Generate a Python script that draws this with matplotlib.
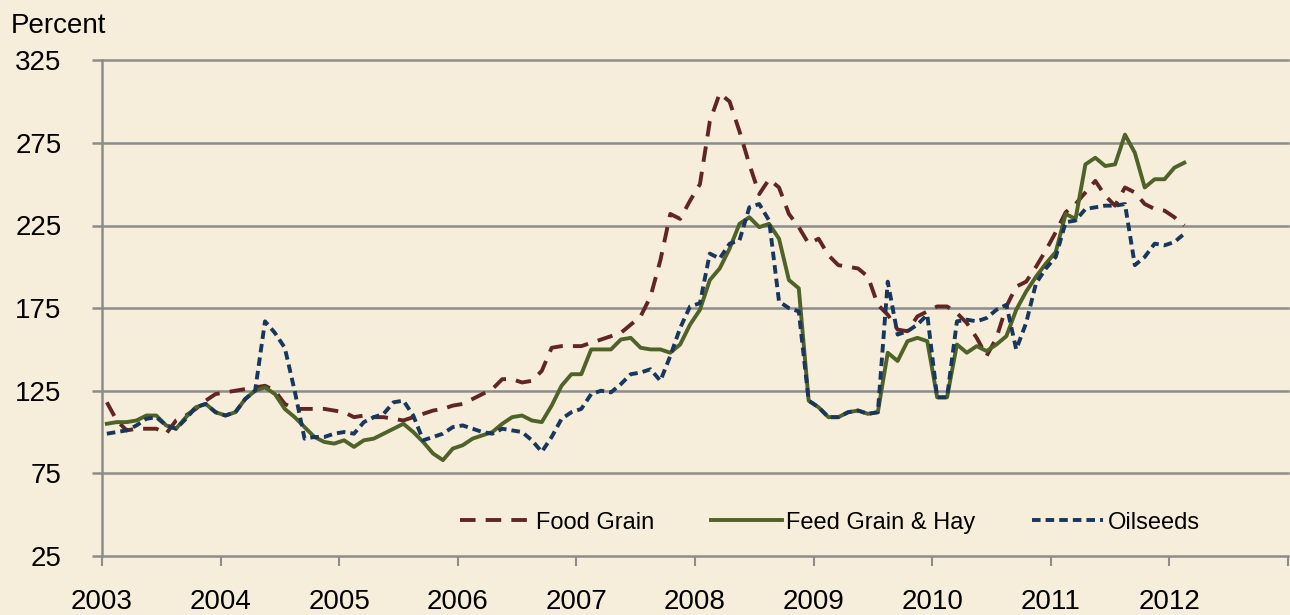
import numpy as np
import matplotlib
matplotlib.use('Agg')
import matplotlib.pyplot as plt

plt.rcParams['font.family'] = ['Liberation Sans', 'DejaVu Sans']

# monthly index, Jan 2003 .. Feb 2012 (percent)
start_year = 2003
food_grain = [118, 107, 101, 102, 102, 102, 99, 107, 110, 114, 119, 123,
              124, 125, 126, 127, 128, 125, 117, 114, 114, 114, 114, 113,
              112, 109, 110, 109, 109, 108, 107, 109, 111, 113, 114, 116,
              117, 120, 123, 126, 132, 132, 130, 131, 137, 151, 152, 152,
              152, 154, 156, 158, 160, 165, 170, 182, 204, 232, 229, 240,
              250, 288, 305, 300, 282, 262, 244, 253, 248, 232, 224, 214,
              217, 207, 201, 200, 199, 194, 177, 171, 162, 161, 170, 173,
              176, 176, 172, 166, 157, 146, 157, 176, 188, 191, 200, 210,
              221, 233, 238, 245, 252, 243, 237, 248, 245, 238, 235, 234,
              230, 225]
feed_grain = [105, 106, 106, 107, 110, 110, 104, 102, 109, 115, 117, 112,
              110, 112, 120, 125, 127, 123, 114, 109, 103, 97, 94, 93,
              95, 91, 95, 96, 99, 102, 105, 100, 94, 87, 83, 90,
              92, 96, 98, 100, 105, 109, 110, 107, 106, 116, 128, 135,
              135, 150, 150, 150, 156, 157, 151, 150, 150, 148, 153, 165,
              174, 192, 199, 211, 226, 230, 224, 226, 217, 192, 187, 119,
              115, 109, 109, 112, 113, 111, 112, 148, 143, 155, 157, 155,
              121, 121, 153, 148, 152, 149, 153, 158, 174, 185, 194, 202,
              209, 232, 229, 262, 266, 261, 262, 280, 269, 248, 253, 253,
              260, 263]
oilseeds = [99, 100, 101, 104, 108, 109, 104, 102, 108, 115, 117, 112,
            110, 112, 120, 125, 167, 160, 151, 125, 96, 97, 97, 99,
            100, 99, 106, 109, 111, 118, 119, 110, 95, 97, 99, 103,
            104, 102, 100, 99, 102, 101, 100, 95, 88, 97, 108, 112,
            114, 123, 125, 124, 129, 135, 136, 138, 131, 146, 163, 176,
            178, 208, 205, 214, 216, 236, 238, 228, 179, 175, 173, 119,
            115, 109, 109, 112, 113, 111, 112, 191, 159, 161, 165, 171,
            121, 121, 167, 168, 167, 169, 174, 177, 150, 166, 190, 199,
            206, 227, 228, 235, 236, 237, 237, 238, 201, 206, 214, 213,
            215, 220]
years = list(range(2003, 2014))
year_labels = [str(y) for y in range(2003, 2013)] + ['']
y_ticks = [25, 75, 125, 175, 225, 275, 325]

# mid-month positions in decimal years
n = len(food_grain)
x = start_year + (np.arange(n) + 0.5) / 12.0

bg = '#F6EEDA'
grid_c = '#8C8C8C'

fig = plt.figure(figsize=(12.9, 6.15), dpi=100, facecolor=bg)
ax = fig.add_axes([0.079, 0.096, 0.9195, 0.806], facecolor=bg)

ax.plot(x, food_grain, color='#632523', lw=2.8, dashes=(4.0, 2.6),
        dash_capstyle='butt', label='Food Grain', zorder=3)
ax.plot(x, feed_grain, color='#4F6228', lw=2.8, label='Feed Grain & Hay',
        zorder=4)
ax.plot(x, oilseeds, color='#17375E', lw=2.8, dashes=(2.2, 1.3),
        dash_capstyle='butt', label='Oilseeds', zorder=5)

ax.set_xlim(2003, 2013)
ax.set_ylim(25, 325)
ax.set_yticks(y_ticks)
ax.set_xticks(years)
ax.set_xticklabels(year_labels)

for v in y_ticks:
    ax.axhline(v, color=grid_c, lw=1.8, zorder=1, clip_on=False)

for s in ['top', 'right', 'bottom']:
    ax.spines[s].set_visible(False)
ax.spines['left'].set_color(grid_c)
ax.spines['left'].set_linewidth(1.8)

ax.tick_params(axis='y', direction='out', length=7, width=1.8, color=grid_c,
               pad=22, labelsize=20, labelcolor='black')
ax.tick_params(axis='x', direction='out', length=7, width=1.5, color=grid_c,
               pad=17, labelsize=20, labelcolor='black')

fig.text(0.008, 0.958, 'Percent', fontsize=20, va='center', ha='left')

leg = ax.legend(loc='center', bbox_to_anchor=(0.614, 0.067), ncol=3,
                frameon=False, fontsize=17, handlelength=3.0,
                handletextpad=0.2, columnspacing=2.4)

fig.savefig('out.png', dpi=100, facecolor=bg)
